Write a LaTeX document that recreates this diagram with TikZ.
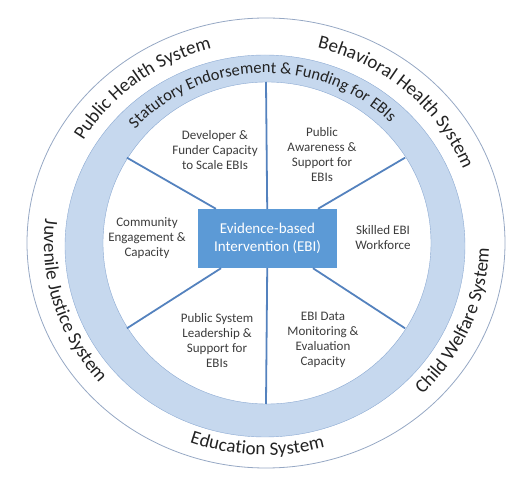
\documentclass[tikz,border=0pt]{standalone}
\usepackage{fontspec}
\setmainfont{Carlito}
\usetikzlibrary{decorations.text}
\definecolor{bandblue}{RGB}{198,216,238}
\definecolor{edgeblue}{RGB}{140,170,210}
\definecolor{ringgray}{RGB}{150,168,196}
\definecolor{spokeblue}{RGB}{84,130,190}
\definecolor{boxblue}{RGB}{92,154,214}
\definecolor{labelgray}{RGB}{60,60,60}
\definecolor{systext}{RGB}{35,35,35}
\newcommand{\sysfont}{\fontsize{19}{23}\selectfont}
\newcommand{\bandfont}{\fontsize{16.5}{19}\selectfont}
\tikzset{
  lbl/.style={align=center, text=labelgray, font=\fontsize{13}{15}\selectfont},
  ebibox/.style={fill=boxblue, text=white, minimum width=139pt, minimum height=59pt,
    inner sep=0pt, align=center, font=\fontsize{15}{17.5}\selectfont},
  spoke/.style={draw=spokeblue, line width=1.8pt},
  systemtext/.style={/utils/exec=\sysfont, decorate,
    decoration={text along path, text color=systext, text={|\sysfont|#1}}},
  bandtext/.style={/utils/exec=\bandfont, decorate,
    decoration={text along path, text color=systext, text={|\bandfont|#1}}}
}
\begin{document}
\begin{tikzpicture}[x=1pt,y=1pt]
\useasboundingbox (-266,-252) rectangle (257,243);
% rings
\draw[ringgray, line width=0.8pt] (0,0) ellipse [x radius=239pt, y radius=225pt];
\fill[bandblue, even odd rule] (-1,-3) ellipse [x radius=200pt, y radius=191pt]
  (1,0) ellipse [x radius=164pt, y radius=161pt];
\draw[edgeblue] (-1,-3) ellipse [x radius=200pt, y radius=191pt];
\draw[edgeblue] (1,0) ellipse [x radius=164pt, y radius=161pt];

% centre and spokes
\node[ebibox] (ebi) at (1.5,4.5) {Evidence-based\\Intervention (EBI)};
\foreach \a in {32,90,148,212,270,328} {
  \coordinate (s\a) at (\a:164pt and 161pt);
  \draw[spoke] (ebi) -- (s\a);
}

% sector labels
\node[lbl] (dev) at (-51,93) {Developer \&\\Funder Capacity\\to Scale EBIs};
\node[lbl] (aware) at (56,88) {Public\\Awareness \&\\Support for\\EBIs};
\node[lbl] (comm) at (-119,5) {Community\\Engagement \&\\Capacity};
\node[lbl] (work) at (117,5) {Skilled EBI\\Workforce};
\node[lbl] (lead) at (-49,-98) {Public System\\Leadership \&\\Support for\\EBIs};
\node[lbl] (data) at (57,-97) {EBI Data\\Monitoring \&\\Evaluation\\Capacity};

% band text
\path[bandtext={Statutory Endorsement {\&} Funding for EBIs}]
  (138:176pt and 170pt) arc[start angle=138, end angle=20, x radius=176pt, y radius=170pt];

% systems, upper half
\path[systemtext={Public Health System}]
  (149.5:212pt and 201pt) arc[start angle=149.5, end angle=80, x radius=212pt, y radius=201pt];
\path[systemtext={Behavioral Health System}]
  (76:212pt and 201pt) arc[start angle=76, end angle=0, x radius=212pt, y radius=201pt];
% systems, lower half
\path[systemtext={Juvenile Justice System}]
  (173.5:222pt and 212pt) arc[start angle=173.5, end angle=250, x radius=222pt, y radius=212pt];
\path[systemtext={Education System}]
  (250:223pt and 212pt) arc[start angle=250, end angle=320, x radius=223pt, y radius=212pt];
\path[systemtext={Child Welfare System}]
  (314.5:223pt and 212pt) arc[start angle=314.5, end angle=380, x radius=223pt, y radius=212pt];
\end{tikzpicture}
\end{document}
